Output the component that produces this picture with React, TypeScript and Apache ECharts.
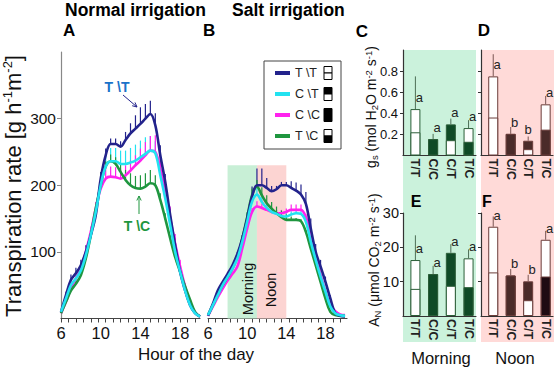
import { useEffect, useRef } from "react";
import * as echarts from "echarts";

const FONT = "'Liberation Sans', Arial, Helvetica, sans-serif";

// ---------- Transpiration time courses (0.5 h steps) ----------
const hours = [6, 6.5, 7, 7.5, 8, 8.5, 9, 9.5, 10, 10.5, 11, 11.5, 12, 12.5, 13, 13.5, 14, 14.5, 15, 15.5, 16, 16.5, 17, 17.5, 18, 18.5, 19, 19.5, 20];

// Panel A: normal irrigation
const normTT = [10, 35, 58, 68, 80, 100, 125, 155, 210, 245, 262, 262, 258, 268, 278, 285, 292, 300, 307, 290, 245, 205, 155, 110, 70, 42, 20, 8, 3];
const normCT = [10, 30, 50, 60, 72, 95, 125, 160, 200, 228, 236, 236, 232, 232, 234, 237, 242, 247, 252, 248, 215, 180, 140, 100, 70, 42, 20, 8, 3];
const normCC = [8, 25, 45, 60, 75, 100, 130, 165, 195, 210, 213, 212, 210, 215, 222, 230, 237, 245, 252, 250, 225, 190, 150, 112, 78, 48, 24, 9, 3];
const normTC = [8, 25, 42, 52, 65, 90, 125, 165, 200, 228, 236, 232, 220, 208, 200, 196, 195, 198, 203, 200, 178, 150, 120, 92, 70, 48, 28, 10, 3];
const normTTErr = [0, 5, 8, 8, 8, 10, 10, 10, 10, 10, 8, 8, 8, 12, 15, 20, 25, 22, 20, 18, 15, 12, 10, 10, 8, 5, 3, 0, 0];
const normCTErr = [0, 0, 3, 3, 5, 5, 5, 8, 12, 18, 20, 20, 20, 20, 22, 24, 25, 25, 22, 18, 10, 8, 5, 5, 3, 0, 0, 0, 0];
const normCCErr = [0, 0, 3, 3, 5, 5, 8, 10, 12, 15, 15, 15, 15, 15, 15, 15, 18, 20, 22, 25, 25, 22, 18, 15, 10, 5, 3, 0, 0];
const normTCErr = [0, 3, 5, 5, 5, 5, 5, 5, 5, 8, 10, 10, 12, 15, 18, 18, 20, 20, 20, 15, 10, 8, 5, 3, 3, 0, 0, 0, 0];

// Panel B: salt irrigation
const saltTT = [4, 22, 42, 55, 67, 80, 97, 120, 150, 183, 200, 200, 196, 191, 194, 200, 200, 196, 192, 186, 172, 135, 100, 78, 55, 30, 8, 4, 3];
const saltCT = [5, 20, 35, 50, 62, 75, 90, 115, 145, 175, 186, 175, 166, 160, 157, 154, 153, 156, 158, 157, 145, 115, 88, 63, 40, 18, 8, 5, 4];
const saltCC = [4, 18, 32, 45, 57, 67, 78, 105, 135, 160, 168, 166, 163, 160, 158, 158, 160, 163, 163, 163, 152, 125, 95, 65, 40, 20, 11, 6, 5];
const saltTC = [5, 20, 36, 50, 62, 75, 92, 120, 152, 185, 198, 185, 173, 165, 158, 152, 148, 148, 148, 146, 130, 105, 80, 55, 30, 10, 5, 4, 4];
const saltTTErr = [0, 0, 0, 0, 0, 0, 3, 5, 8, 15, 25, 25, 15, 8, 5, 5, 5, 10, 12, 15, 18, 15, 12, 10, 8, 5, 0, 0, 0];
const saltCTErr = [0, 0, 0, 0, 0, 0, 0, 3, 5, 8, 10, 8, 6, 5, 5, 5, 5, 5, 5, 5, 5, 5, 3, 3, 0, 0, 0, 0, 0];
const saltCCErr = [0, 0, 0, 0, 0, 0, 0, 3, 5, 6, 8, 6, 5, 5, 5, 5, 5, 8, 8, 8, 5, 5, 5, 3, 3, 0, 0, 0, 0];
const saltTCErr = [0, 0, 0, 0, 0, 0, 3, 5, 8, 10, 10, 12, 12, 10, 10, 10, 8, 5, 3, 3, 3, 3, 3, 3, 0, 0, 0, 0, 0];

const hourLabels = [6, 10, 14, 18];
const hourTicks = [6, 6.75, 7.5, 8.25, 9, 9.75, 10.5, 11.25, 12, 12.75, 13.5, 14.25, 15, 15.75, 16.5, 17.25, 18, 18.75, 19.5];
const rateLabels = [100, 200, 300];
const morningWindow = [8, 11];
const noonWindow = [11, 14];
const shadeTop = 230;

const seriesNames = ["T \\T", "C \\T", "C \\C", "T \\C"];

// ---------- Gas exchange bars ----------
const categories = ["T/T", "C/C", "C/T", "T/C"];
const lowerDark = [false, true, false, true];
const upperDark = [false, true, true, false];
const gsTicks = [0.2, 0.4, 0.6, 0.8];
const anTicks = [10, 20, 30];

const gsMorningTotal = [0.44, 0.155, 0.295, 0.26];
const gsMorningSplit = [0.22, 0.155, 0.145, 0.13];
const gsMorningErr = [0.75, 0.205, 0.35, 0.335];
const gsMorningLetters = ["a", "a", "a", "a"];

const gsNoonTotal = [0.75, 0.205, 0.14, 0.485];
const gsNoonSplit = [0.36, 0.205, 0.06, 0.245];
const gsNoonErr = [0.96, 0.27, 0.18, 0.565];
const gsNoonLetters = ["a", "b", "b", "a"];

const anMorningTotal = [16.3, 12.2, 18.4, 16.8];
const anMorningSplit = [7.9, 12.2, 8.8, 8.4];
const anMorningErr = [23.5, 14.6, 20.9, 19.4];
const anMorningLetters = ["a", "a", "a", "a"];

const anNoonTotal = [26, 11.8, 10.1, 22.2];
const anNoonSplit = [12.7, 11.8, 4.6, 11.5];
const anNoonErr = [29, 13.7, 12, 24.8];
const anNoonLetters = ["a", "b", "b", "a"];

// ---------- colours ----------
const COL_TT = "#23238c";
const COL_CT = "#22e2f0";
const COL_CC = "#ff22ee";
const COL_TC = "#1f963f";

const GREEN_DARK = "#0f4a26";
const GREEN_EDGE = "#2c5e38";
const BROWN_DARK = "#4a2b29";
const BROWN_EDGE = "#6b3d3a";

function lineSeries(name: string, xi: number, vals: number[], color: string, z: number) {
  return {
    type: "line",
    name,
    xAxisIndex: xi,
    yAxisIndex: xi,
    data: hours.map((h, i) => [h, vals[i]]),
    smooth: 0.35,
    symbol: "none",
    showSymbol: false,
    silent: true,
    z,
    lineStyle: { width: 2.6, color },
    itemStyle: { color },
  };
}

function errSeries(xi: number, vals: number[], errs: number[], color: string) {
  return {
    type: "custom",
    xAxisIndex: xi,
    yAxisIndex: xi,
    silent: true,
    z: 2,
    data: hours.map((h, i) => [h, vals[i], vals[i] + errs[i]]).filter((_, i) => errs[i] > 0),
    renderItem: (_p: any, api: any) => {
      const p0 = api.coord([api.value(0), api.value(1)]);
      const p1 = api.coord([api.value(0), api.value(2)]);
      return {
        type: "line",
        shape: { x1: p0[0], y1: p0[1], x2: p1[0], y2: p1[1] },
        style: { stroke: color, lineWidth: 1.2 },
      };
    },
  };
}

function barPanel(
  gi: number,
  totals: number[],
  splits: number[],
  errs: number[],
  letters: string[],
  yMax: number,
  dark: string[],
  edge: string,
  errColor: string
) {
  const total = {
    type: "bar",
    xAxisIndex: gi,
    yAxisIndex: gi,
    barWidth: 10,
    barGap: "-100%",
    silent: true,
    z: 3,
    data: totals.map((v, i) => ({
      value: [i, v],
      itemStyle: { color: upperDark[i] ? dark[i] : "#ffffff", borderColor: edge, borderWidth: 1 },
    })),
  };
  const lower = {
    type: "bar",
    xAxisIndex: gi,
    yAxisIndex: gi,
    barWidth: 10,
    barGap: "-100%",
    silent: true,
    z: 4,
    data: splits.map((v, i) => ({
      value: [i, v],
      itemStyle: { color: lowerDark[i] ? dark[i] : "#ffffff", borderColor: edge, borderWidth: 1 },
    })),
  };
  const extra = {
    type: "custom",
    xAxisIndex: gi,
    yAxisIndex: gi,
    silent: true,
    z: 5,
    data: totals.map((t, i) => [i, t, errs[i]]),
    renderItem: (params: any, api: any) => {
      const i = params.dataIndex;
      const x = api.value(0);
      const top = api.value(1);
      const err = api.value(2);
      const pTop = api.coord([x, top]);
      const pErr = api.coord([x, err]);
      const anchor = Math.min(err, top + yMax * 0.04);
      const pA = api.coord([x, anchor]);
      const beside = err > anchor + 1e-9;
      return {
        type: "group",
        children: [
          {
            type: "line",
            shape: { x1: pTop[0], y1: pTop[1], x2: pErr[0], y2: pErr[1] },
            style: { stroke: errColor, lineWidth: 1 },
          },
          {
            type: "text",
            x: pA[0] + (beside ? 4 : 0),
            y: pA[1] - 1,
            style: {
              text: letters[i],
              fill: "#222",
              fontSize: 13,
              fontFamily: FONT,
              textAlign: "center",
              textVerticalAlign: "bottom",
            },
          },
        ],
      };
    },
  };
  return [total, lower, extra];
}

function hourAxis(gi: number, max: number) {
  return {
    type: "value",
    gridIndex: gi,
    min: 6,
    max,
    axisLine: { show: true, onZero: false, lineStyle: { color: "#444", width: 1.2 } },
    axisTick: { show: true, customValues: hourTicks, length: 4, lineStyle: { color: "#444" } },
    axisLabel: { customValues: hourLabels, fontSize: 16.5, color: "#111", fontFamily: FONT, margin: 6 },
    splitLine: { show: false },
  };
}

function catAxis(gi: number) {
  return {
    type: "value",
    gridIndex: gi,
    min: -0.7,
    max: 3.42,
    axisLine: { show: true, onZero: false, lineStyle: { color: "#333", width: 1.2 } },
    axisTick: { show: false },
    axisLabel: {
      customValues: [0, 1, 2, 3],
      formatter: (v: number) => categories[Math.round(v)],
      rotate: -90,
      fontSize: 12.5,
      fontWeight: "bold",
      color: "#222",
      fontFamily: FONT,
      margin: 3,
    },
    splitLine: { show: false },
  };
}

function barValueAxis(gi: number, max: number, ticks: number[], showLabels: boolean, dec: number, fs: number, margin: number) {
  return {
    type: "value",
    gridIndex: gi,
    min: 0,
    max,
    axisLine: { show: true, onZero: false, lineStyle: { color: "#333", width: 1.2 } },
    axisTick: { show: true, customValues: ticks, length: 3, lineStyle: { color: "#333" } },
    axisLabel: {
      show: showLabels,
      customValues: ticks,
      formatter: (v: number) => v.toFixed(dec),
      fontSize: fs,
      color: "#111",
      fontFamily: FONT,
      margin,
    },
    splitLine: { show: false },
  };
}

function txt(text: string, x: number, y: number, size: number, o: any = {}) {
  return {
    type: "text",
    x,
    y,
    z: 100,
    silent: true,
    rotation: o.rotation || 0,
    style: {
      text,
      fontSize: size,
      fontFamily: FONT,
      fontWeight: o.bold ? "bold" : "normal",
      fill: o.color || "#111",
      textAlign: o.align || "center",
      textVerticalAlign: "middle",
      lineHeight: o.lineHeight,
      rich: o.rich,
    },
  };
}

function arrow(x1: number, y1: number, x2: number, y2: number, color: string) {
  const dx = x2 - x1;
  const dy = y2 - y1;
  const len = Math.sqrt(dx * dx + dy * dy);
  const ux = dx / len;
  const uy = dy / len;
  const h = 5;
  const a = 0.45;
  const lx = x2 - h * (ux * Math.cos(a) - uy * Math.sin(a));
  const ly = y2 - h * (uy * Math.cos(a) + ux * Math.sin(a));
  const rx = x2 - h * (ux * Math.cos(-a) - uy * Math.sin(-a));
  const ry = y2 - h * (uy * Math.cos(-a) + ux * Math.sin(-a));
  return [
    { type: "line", z: 100, silent: true, shape: { x1, y1, x2, y2 }, style: { stroke: color, lineWidth: 1 } },
    {
      type: "polyline",
      z: 100,
      silent: true,
      shape: { points: [[lx, ly], [x2, y2], [rx, ry]] },
      style: { stroke: color, lineWidth: 1, fill: null },
    },
  ];
}

function legendIcon(x: number, cy: number, topDark: boolean, bottomDark: boolean) {
  return [
    { type: "rect", z: 100, silent: true, shape: { x, y: cy - 6.5, width: 8, height: 6.5 }, style: { fill: topDark ? "#000" : "#fff", stroke: "#000", lineWidth: 1 } },
    { type: "rect", z: 100, silent: true, shape: { x, y: cy, width: 8, height: 6.5 }, style: { fill: bottomDark ? "#000" : "#fff", stroke: "#000", lineWidth: 1 } },
  ];
}

const supSub = {
  sup: { fontSize: 9.5, lineHeight: 9, verticalAlign: "top", fontFamily: FONT, fill: "#111" },
  sub: { fontSize: 9.5, lineHeight: 9, verticalAlign: "bottom", fontFamily: FONT, fill: "#111" },
};

export default function App() {
  const ref = useRef<HTMLDivElement>(null);

  useEffect(() => {
    if (!ref.current) return;
    const chart = echarts.init(ref.current, undefined, { renderer: "svg" });

    const brownDarks = [BROWN_DARK, BROWN_DARK, BROWN_DARK, BROWN_DARK];
    const brownDarksF = [BROWN_DARK, BROWN_DARK, BROWN_DARK, "#1e0b12"];
    const greenDarks = [GREEN_DARK, GREEN_DARK, GREEN_DARK, GREEN_DARK];

    const shadeSeries = {
      type: "line",
      xAxisIndex: 1,
      yAxisIndex: 1,
      data: [[6, 0]],
      symbol: "none",
      silent: true,
      z: 1,
      lineStyle: { opacity: 0 },
      markArea: {
        silent: true,
        data: [
          [
            { xAxis: morningWindow[0], yAxis: 0, itemStyle: { color: "#c8efd6" } },
            { xAxis: morningWindow[1], yAxis: shadeTop },
          ],
          [
            { xAxis: noonWindow[0], yAxis: 0, itemStyle: { color: "#fcd4d2" } },
            { xAxis: noonWindow[1], yAxis: shadeTop },
          ],
        ],
      },
    };

    const option: any = {
      animation: false,
      backgroundColor: "#ffffff",
      textStyle: { fontFamily: FONT },
      grid: [
        { left: 61, top: 52, width: 139, height: 266.5 },
        { left: 208, top: 52, width: 139, height: 266.5 },
        { left: 403, top: 50, width: 73, height: 105.5 },
        { left: 481, top: 50, width: 72, height: 105.5 },
        { left: 403, top: 213, width: 73, height: 103 },
        { left: 481, top: 213, width: 72, height: 103 },
      ],
      xAxis: [hourAxis(0, 20), hourAxis(1, 20.2), catAxis(2), catAxis(3), catAxis(4), catAxis(5)],
      yAxis: [
        {
          type: "value",
          gridIndex: 0,
          min: 0,
          max: 400,
          axisLine: { show: true, onZero: false, lineStyle: { color: "#888", width: 1.2 } },
          axisTick: { show: true, customValues: rateLabels, length: 4, lineStyle: { color: "#888" } },
          axisLabel: { customValues: rateLabels, fontSize: 15.5, color: "#111", fontFamily: FONT, margin: 5 },
          splitLine: { show: false },
        },
        { type: "value", gridIndex: 1, min: 0, max: 400, show: false, splitLine: { show: false } },
        barValueAxis(2, 1, gsTicks, true, 1, 13, 5),
        barValueAxis(3, 1, gsTicks, false, 1, 13, 5),
        barValueAxis(4, 30, anTicks, true, 0, 14.5, 4),
        barValueAxis(5, 30, anTicks, false, 0, 14.5, 4),
      ],
      legend: {
        data: seriesNames,
        orient: "vertical",
        left: 264,
        top: 61,
        padding: [5, 21, 6, 11],
        itemWidth: 15,
        itemHeight: 4,
        itemGap: 7,
        icon: "rect",
        borderColor: "#444",
        borderWidth: 1,
        borderRadius: 0,
        selectedMode: false,
        textStyle: { fontSize: 12.5, color: "#222", fontFamily: FONT, lineHeight: 14 },
      },
      series: [
        shadeSeries,
        errSeries(0, normTT, normTTErr, COL_TT),
        errSeries(0, normCT, normCTErr, COL_CT),
        errSeries(0, normCC, normCCErr, COL_CC),
        errSeries(0, normTC, normTCErr, COL_TC),
        lineSeries(seriesNames[2], 0, normCC, COL_CC, 3),
        lineSeries(seriesNames[3], 0, normTC, COL_TC, 4),
        lineSeries(seriesNames[0], 0, normTT, COL_TT, 5),
        lineSeries(seriesNames[1], 0, normCT, COL_CT, 6),
        errSeries(1, saltTT, saltTTErr, COL_TT),
        errSeries(1, saltCT, saltCTErr, COL_CT),
        errSeries(1, saltCC, saltCCErr, COL_CC),
        errSeries(1, saltTC, saltTCErr, COL_TC),
        lineSeries(seriesNames[2], 1, saltCC, COL_CC, 3),
        lineSeries(seriesNames[3], 1, saltTC, COL_TC, 4),
        lineSeries(seriesNames[0], 1, saltTT, COL_TT, 5),
        lineSeries(seriesNames[1], 1, saltCT, COL_CT, 6),
        ...barPanel(2, gsMorningTotal, gsMorningSplit, gsMorningErr, gsMorningLetters, 1, greenDarks, GREEN_EDGE, "#4d6e55"),
        ...barPanel(3, gsNoonTotal, gsNoonSplit, gsNoonErr, gsNoonLetters, 1, brownDarks, BROWN_EDGE, "#7a5552"),
        ...barPanel(4, anMorningTotal, anMorningSplit, anMorningErr, anMorningLetters, 30, greenDarks, GREEN_EDGE, "#4d6e55"),
        ...barPanel(5, anNoonTotal, anNoonSplit, anNoonErr, anNoonLetters, 30, brownDarksF, BROWN_EDGE, "#7a5552"),
      ],
      graphic: [
        { type: "rect", z: -10, silent: true, shape: { x: 403, y: 50, width: 73, height: 292 }, style: { fill: "#cbf2dc" } },
        { type: "rect", z: -10, silent: true, shape: { x: 481, y: 50, width: 73, height: 292 }, style: { fill: "#ffdad8" } },
        txt("Normal irrigation", 65, 10, 17.5, { bold: true, align: "left", color: "#000" }),
        txt("Salt irrigation", 232, 10, 17.5, { bold: true, align: "left", color: "#000" }),
        txt("A", 63, 30, 17, { bold: true, align: "left", color: "#000" }),
        txt("B", 203, 30, 17, { bold: true, align: "left", color: "#000" }),
        txt("C", 362, 31, 17, { bold: true, color: "#000" }),
        txt("D", 484, 30, 17, { bold: true, color: "#000" }),
        txt("E", 416, 201, 16, { bold: true, color: "#000" }),
        txt("F", 487, 201, 16, { bold: true, color: "#000" }),
        txt("Transpiration rate [g h{sup|-1}m{sup|-2}]", 13, 186, 22, {
          rotation: Math.PI / 2,
          lineHeight: 24,
          rich: { sup: { fontSize: 13, lineHeight: 13, verticalAlign: "top", fontFamily: FONT, fill: "#111" } },
        }),
        txt("Hour of the day", 196, 354, 17),
        txt("Morning", 441, 358, 16.5),
        txt("Noon", 515, 358, 16.5),
        txt("Morning", 248, 289, 14.5, { rotation: Math.PI / 2 }),
        txt("Noon", 271, 290, 14.5, { rotation: Math.PI / 2 }),
        txt("g{sub|s} (mol H{sub|2}O m{sup|-2} s{sup|-1})", 371, 107, 14, { rotation: Math.PI / 2, lineHeight: 16, rich: supSub }),
        txt("A{sub|N} (\u03bcmol CO{sub|2} m{sup|-2} s{sup|-1})", 374, 260, 14, { rotation: Math.PI / 2, lineHeight: 16, rich: supSub }),
        txt("T \\T", 117, 87, 14, { bold: true, color: "#1a72c9" }),
        txt("T \\C", 137, 226, 14, { bold: true, color: "#1f963f" }),
        ...arrow(123, 95, 137, 107, COL_TT),
        ...arrow(139, 214, 139, 196, COL_TC),
        ...legendIcon(324, 73, false, false),
        ...legendIcon(324, 94, true, false),
        ...legendIcon(324, 115, true, true),
        ...legendIcon(324, 136, false, true),
      ],
    };

    chart.setOption(option);
    return () => chart.dispose();
  }, []);

  return <div ref={ref} style={{ position: "absolute", left: 0, top: 0, width: 554, height: 370 }} />;
}
